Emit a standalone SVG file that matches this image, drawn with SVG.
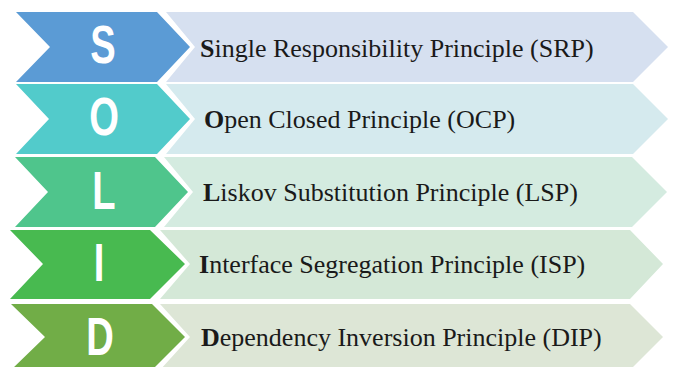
<svg xmlns="http://www.w3.org/2000/svg" width="675" height="367" viewBox="0 0 675 367">
<style>
.letter{font-family:"Liberation Sans","DejaVu Sans",sans-serif;font-weight:bold;font-size:53px;fill:#ffffff;text-anchor:middle}
.label{font-family:"Liberation Serif","DejaVu Serif",serif;font-size:26px;fill:#1a1a1a}
.b{font-weight:bold}
</style>
<rect width="675" height="367" fill="#ffffff"/>
<g id="row-S">
<polygon points="16,12 157,12 190,47 157,82 16,82 50,47" fill="#5B9BD5"/>
<polygon points="166,12 633,12 668,47 633,82 166,82 195,47" fill="#D6E0F0"/>
<text class="letter" transform="translate(103,63) scale(0.72,1)">S</text>
<text class="label" font-family="Liberation Serif, serif" x="200" y="57"><tspan class="b">S</tspan>ingle Responsibility Principle (SRP)</text>
</g>
<g id="row-O">
<polygon points="16,84 157,84 190,119 157,154 16,154 49,119" fill="#52CBCB"/>
<polygon points="166,84 633,84 668,119 633,154 166,154 195,119" fill="#D5EAEE"/>
<text class="letter" transform="translate(104,135) scale(0.72,1)">O</text>
<text class="label" font-family="Liberation Serif, serif" x="204" y="128"><tspan class="b">O</tspan>pen Closed Principle (OCP)</text>
</g>
<g id="row-L">
<polygon points="15,157 155,157 188,192 155,227 15,227 48,192" fill="#4FC58C"/>
<polygon points="164,157 632,157 667,192 632,227 164,227 193,192" fill="#D4EBE0"/>
<text class="letter" transform="translate(104,209) scale(0.72,1)">L</text>
<text class="label" font-family="Liberation Serif, serif" x="203" y="201"><tspan class="b">L</tspan>iskov Substitution Principle (LSP)</text>
</g>
<g id="row-I">
<polygon points="10,230 150,230 185,264 150,299 10,299 43,264" fill="#48BA50"/>
<polygon points="160,230 630,230 663,264 630,299 160,299 190,264" fill="#D4E8D7"/>
<text class="letter" transform="translate(99,281) scale(0.72,1)">I</text>
<text class="label" font-family="Liberation Serif, serif" x="199" y="273"><tspan class="b">I</tspan>nterface Segregation Principle (ISP)</text>
</g>
<g id="row-D">
<polygon points="11,304 152,304 185,337 152,370 11,370 45,337" fill="#71AD47"/>
<polygon points="160,304 630,304 663,337 630,370 160,370 190,337" fill="#DDE6D6"/>
<text class="letter" transform="translate(100,355) scale(0.72,1)">D</text>
<text class="label" font-family="Liberation Serif, serif" x="201" y="346"><tspan class="b">D</tspan>ependency Inversion Principle (DIP)</text>
</g>
<g id="connectors"></g>
</svg>
